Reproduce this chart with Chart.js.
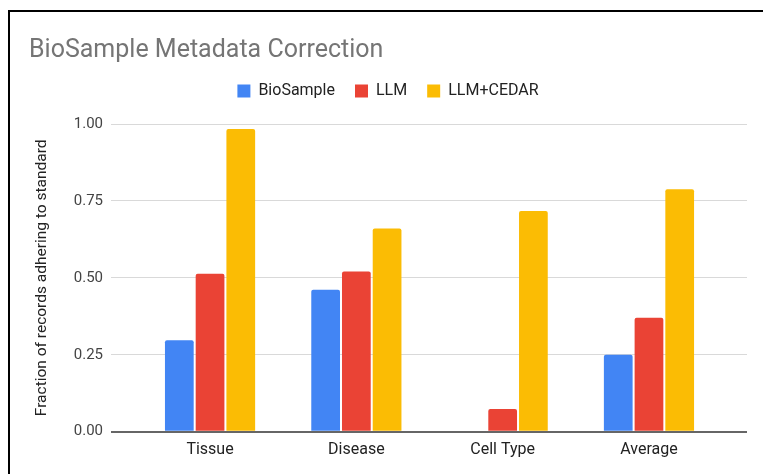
<!DOCTYPE html>
<html>
<head>
<meta charset="utf-8">
<script src="https://cdn.jsdelivr.net/npm/chart.js@4"></script>
<style>
  html, body { margin: 0; padding: 0; background: #fff; }
  #wrap { position: relative; width: 763px; height: 474px; overflow: hidden; }
  #frame {
    position: absolute; left: 8px; top: 10px; width: 800px; height: 500px;
    border-top: 2px solid #000; border-left: 2px solid #000; pointer-events: none;
  }
  canvas { position: absolute; left: 0; top: 0; }
</style>
</head>
<body>
<div id="wrap">
  <canvas id="chart" width="763" height="474"></canvas>
  <div id="frame"></div>
</div>
<script>
// data
const categories = ["Tissue", "Disease", "Cell Type", "Average"];
const biosample = [0.297, 0.461, 0, 0.25];
const llm = [0.513, 0.521, 0.074, 0.37];
const llmCedar = [0.984, 0.66, 0.717, 0.788];
const yTicks = [0, 0.25, 0.5, 0.75, 1];

const toPoints = (arr) => arr.map((v, i) => ({ x: i, y: v }));

Chart.defaults.font.family = "Roboto, 'Liberation Sans', sans-serif";
Chart.defaults.color = "#222";

// leave some room under the legend
const legendGap = {
  id: "legendGap",
  beforeInit(chart) {
    const fit = chart.legend.fit;
    chart.legend.fit = function () {
      fit.bind(chart.legend)();
      this.height += 15;
    };
  },
};

const ctx = document.getElementById("chart").getContext("2d");
const chart = new Chart(ctx, {
  type: "bar",
  data: {
    datasets: [
      { label: "BioSample", data: toPoints(biosample), backgroundColor: "#4285f4" },
      { label: "LLM", data: toPoints(llm), backgroundColor: "#ea4335" },
      { label: "LLM+CEDAR", data: toPoints(llmCedar), backgroundColor: "#fbbc04" },
    ],
  },
  plugins: [legendGap],
  options: {
    responsive: false,
    animation: false,
    events: [],
    layout: { padding: { left: 29, right: 16, top: 0, bottom: 0 } },
    datasets: {
      bar: {
        categoryPercentage: 0.63,
        barPercentage: 0.935,
        borderRadius: 2,
        borderSkipped: "bottom",
      },
    },
    plugins: {
      title: {
        display: true,
        text: "BioSample Metadata Correction",
        align: "start",
        color: "#757575",
        font: { size: 25, weight: "normal" },
        padding: { top: 36, bottom: -3 },
      },
      legend: {
        display: true,
        labels: {
          boxWidth: 13,
          boxHeight: 13,
          padding: 20,
          color: "#222",
          font: { size: 16 },
        },
      },
      tooltip: { enabled: false },
    },
    scales: {
      x: {
        type: "linear",
        offset: false,
        min: -0.677,
        max: 3.67,
        grid: { display: false, offset: false },
        border: { display: false },
        ticks: {
          stepSize: 1,
          autoSkip: false,
          includeBounds: false,
          maxRotation: 0,
          padding: 1,
          color: "#222",
          font: { size: 16 },
          callback: (v) => (Number.isInteger(v) ? categories[v] ?? "" : ""),
        },
        afterFit: (scale) => { scale.height = 42.3; },
      },
      y: {
        min: 0,
        max: 1,
        afterBuildTicks: (scale) => { scale.ticks = yTicks.map((v) => ({ value: v })); },
        grid: {
          drawTicks: false,
          color: (c) => (c.tick && c.tick.value === 0 ? "#666" : "#d9d9d9"),
          lineWidth: (c) => (c.tick && c.tick.value === 0 ? 2 : 1),
        },
        border: { display: false },
        ticks: {
          padding: 8,
          color: "#444",
          font: { size: 15 },
          callback: (v) => Number(v).toFixed(2),
        },
        title: {
          display: true,
          text: "Fraction of records adhering to standard",
          color: "#222",
          font: { size: 15.5 },
          padding: { top: 4, bottom: 4 },
        },
        afterFit: (scale) => { scale.width = 82; },
      },
    },
  },
});
</script>
</body>
</html>
